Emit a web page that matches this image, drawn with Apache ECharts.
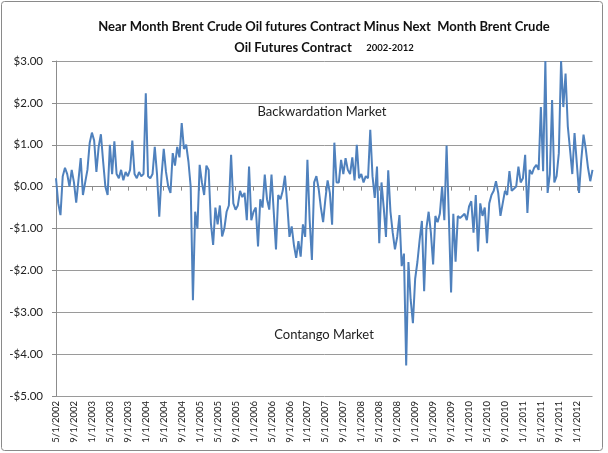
<!DOCTYPE html>
<html><head><meta charset="utf-8">
<script src="https://cdn.jsdelivr.net/npm/echarts@6/dist/echarts.min.js"></script>
<style>html,body{margin:0;padding:0;background:#fff}#c{width:608px;height:453px}</style>
</head><body><div id="c"></div><script>
// Semi-monthly readings (1st and 16th of each month), USD/bbl spread
const v2002=[0.2,-0.4,-0.68,0.25,0.45,0.3,0.0,0.4,0.1,-0.38,0.15,0.68,-0.2,0.1,0.4,1.04];
const v2003=[1.29,1.1,0.35,0.95,1.25,0.6,0.0,-0.2,1.0,0.3,1.08,0.3,0.2,0.4,0.15,0.35,0.25,0.4,1.1,0.3,0.2,0.35,0.25,0.3];
const v2004=[2.23,0.25,0.2,0.3,0.95,0.3,-0.72,0.25,0.9,0.35,0.0,-0.15,0.8,0.5,0.95,0.7,1.52,0.9,1.0,0.6,0.0,-2.71,-0.6,-1.0];
const v2005=[0.52,0.1,-0.2,0.5,0.4,-0.87,-1.39,-0.5,-0.9,-0.45,-1.19,-1.0,-0.6,-0.45,0.76,-0.4,-0.55,-0.45,-0.1,-0.25,-0.15,-0.8,0.48,-0.8];
const v2006=[-0.6,-0.5,-1.43,-0.3,-0.5,0.29,-0.3,-0.55,0.29,-0.6,-1.5,-0.2,-0.3,-0.1,0.26,-0.4,-1.2,-0.95,-1.4,-1.7,-1.3,-1.67,-0.9,-1.2];
const v2007=[0.64,-0.8,-1.75,0.1,0.25,-0.05,-0.5,-0.85,-0.3,0.15,-0.15,-0.91,1.05,0.1,0.1,0.64,0.3,0.68,0.4,0.3,0.7,0.15,1.0,0.2];
const v2008=[0.3,0.1,0.25,0.2,1.36,0.25,-0.27,0.48,-1.35,0.1,-0.5,-1.2,0.39,-0.6,-1.1,-1.5,-1.2,-0.68,-1.9,-1.6,-4.27,-1.8,-2.7,-3.26];
const v2009=[-2.2,-1.8,-1.27,-0.82,-2.5,-1.0,-0.6,-1.1,-1.86,-0.7,-0.85,-0.65,0.0,-0.8,0.98,-0.7,-2.53,-0.65,-1.79,-0.7,-0.75,-0.7,-0.65,-0.8];
const v2010=[-0.47,-0.35,-1.1,-0.2,-1.55,-0.4,-0.7,-0.5,-1.35,-0.4,-0.2,-0.1,0.13,-0.15,-0.7,-0.4,-0.1,-0.2,0.37,-0.1,-0.05,0.0,0.48,0.1];
const v2011=[0.2,0.76,-0.63,0.4,0.3,0.45,0.52,0.4,1.9,0.37,3.0,-0.15,0.3,2.07,0.1,0.25,0.8,3.0,1.9,2.7,1.44,0.88,0.3,1.28];
const v2012=[0.56,-0.15,0.64,1.24,0.9,0.45,0.13,0.4];

const years=[2002,2003,2004,2005,2006,2007,2008,2009,2010,2011,2012];
const yearValues=[v2002,v2003,v2004,v2005,v2006,v2007,v2008,v2009,v2010,v2011,v2012];
const firstMonth=[5,1,1,1,1,1,1,1,1,1,1];
const yTicks=[-5,-4,-3,-2,-1,0,1,2,3];

const categories=[], values=[];
years.forEach((y,i)=>{
  const arr=yearValues[i];
  arr.forEach((v,j)=>{
    const m=firstMonth[i]+Math.floor(j/2);
    const d=(j%2===0)?1:16;
    categories.push(m+'/'+d+'/'+y);
    values.push(v);
  });
});

const FONT='Lato';
const chart=echarts.init(document.getElementById('c'),null,{renderer:'canvas'});
const showIdx=(i)=>i%8===0;
chart.setOption({
  animation:false,
  backgroundColor:'#fff',
  grid:{left:56,right:15.5,top:61,bottom:57,containLabel:false},
  xAxis:[{
    type:'category',data:categories,boundaryGap:false,position:'bottom',
    axisLine:{show:false,onZero:false},axisTick:{show:false},
    axisLabel:{rotate:90,interval:showIdx,margin:5,fontFamily:FONT,fontSize:9.5,color:'#222'},
    splitLine:{show:false}
  },{
    type:'category',data:categories,boundaryGap:false,position:'bottom',
    axisLine:{show:true,onZero:true,lineStyle:{color:'#8c8c8c',width:1}},
    axisTick:{show:true,interval:showIdx,length:4,lineStyle:{color:'#8c8c8c'}},
    axisLabel:{show:false},splitLine:{show:false}
  }],
  yAxis:{
    type:'value',min:-5,max:3,interval:1,
    axisLine:{show:true,lineStyle:{color:'#8c8c8c'}},
    axisTick:{show:true,length:4,lineStyle:{color:'#8c8c8c'}},
    splitLine:{lineStyle:{color:'#9a9a9a',width:1}},
    axisLabel:{margin:13,fontFamily:FONT,fontSize:11.5,color:'#222',
      formatter:(v)=>(v<0?'-$':'$')+Math.abs(v).toFixed(2)}
  },
  series:[{
    type:'line',data:values,xAxisIndex:0,showSymbol:false,symbol:'none',
    lineStyle:{color:'#4f81bd',width:2},clip:true
  }],
  graphic:[
    {type:'rect',shape:{x:1.5,y:1.5,width:601,height:449,r:3},style:{fill:null,stroke:'#8a8a8a',lineWidth:1},silent:true},
    {type:'text',x:324,y:27,style:{text:'Near Month Brent Crude Oil futures Contract Minus Next  Month Brent Crude',
      font:'bold 13px '+FONT,fill:'#111',textAlign:'center',textVerticalAlign:'middle'}},
    {type:'text',x:293,y:48,style:{text:'Oil Futures Contract',
      font:'bold 13px '+FONT,fill:'#111',textAlign:'center',textVerticalAlign:'middle'}},
    {type:'text',x:390,y:48,style:{text:'2002-2012',
      font:'bold 9.5px '+FONT,fill:'#111',textAlign:'center',textVerticalAlign:'middle'}},
    {type:'text',x:322,y:112,style:{text:'Backwardation Market',
      font:'13px '+FONT,fill:'#222',textAlign:'center',textVerticalAlign:'middle'}},
    {type:'text',x:324,y:335,style:{text:'Contango Market',
      font:'13px '+FONT,fill:'#222',textAlign:'center',textVerticalAlign:'middle'}}
  ]
});
</script></body></html>
